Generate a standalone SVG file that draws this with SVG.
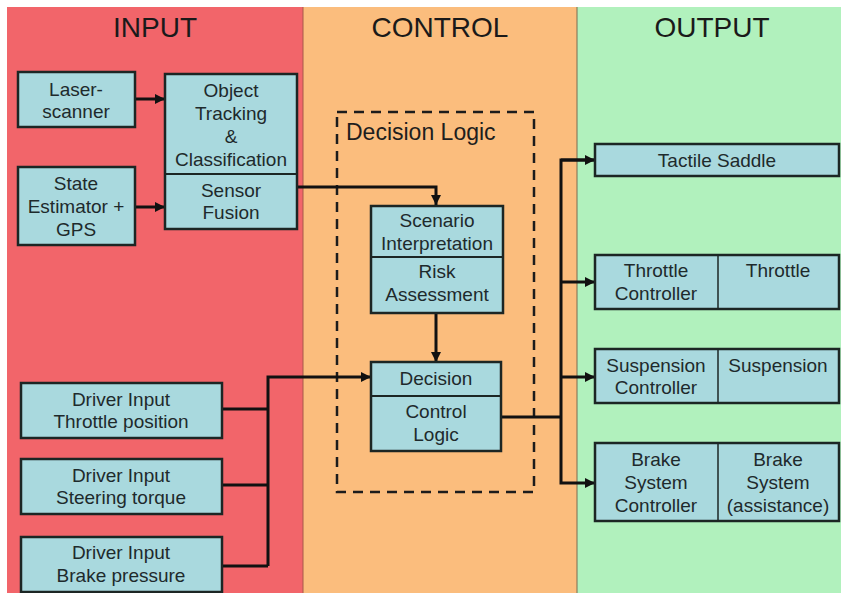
<svg xmlns="http://www.w3.org/2000/svg" width="841" height="593" viewBox="0 0 841 593">
<defs>
<style>
.box{fill:#a9d9de;stroke:#1c2624;stroke-width:2.5}
.div{stroke:#1c2624;stroke-width:2}
.div2{stroke:#1c2624;stroke-width:1.5}
.t{font-family:"Liberation Sans",Arial,sans-serif;font-size:19px;fill:#1e2a2c;text-anchor:middle}
.h{font-family:"Liberation Sans",Arial,sans-serif;font-size:28px;fill:#1a1a1a;text-anchor:middle}
.c{fill:none;stroke:#111;stroke-width:3}
</style>
<marker id="ah" viewBox="0 0 10 10" refX="10" refY="5" markerWidth="3.4" markerHeight="3.4" markerUnits="strokeWidth" orient="auto">
<path d="M0,0 L10,5 L0,10 z" fill="#111"/>
</marker>
</defs>
<rect x="0" y="0" width="841" height="593" fill="#ffffff"/>
<g id="panels">
<rect x="7" y="7" width="296" height="586" fill="#f2656a"/>
<rect x="303" y="7" width="274" height="586" fill="#fbbd7d"/>
<rect x="577" y="7" width="264" height="586" fill="#b1f1bd"/>
<line x1="303" y1="7" x2="303" y2="593" stroke="#a85a4a" stroke-width="1"/>
<line x1="577" y1="7" x2="577" y2="593" stroke="#7a6a50" stroke-width="1"/>
<text class="h" x="155" y="37">INPUT</text>
<text class="h" x="440" y="37">CONTROL</text>
<text class="h" x="712" y="37">OUTPUT</text>
</g>
<g id="decision-logic">
<rect x="337" y="112" width="197" height="380" fill="none" stroke="#1c1c1c" stroke-width="2.5" stroke-dasharray="10,7"/>
<text x="346" y="140" style="font-family:'Liberation Sans',Arial,sans-serif;font-size:23px;fill:#1e1e1e">Decision Logic</text>
</g>
<g id="connectors">
<line class="c" x1="135" y1="99" x2="165" y2="99" marker-end="url(#ah)"/>
<line class="c" x1="135" y1="207" x2="165" y2="207" marker-end="url(#ah)"/>
<polyline class="c" points="297,187 436,187 436,205" marker-end="url(#ah)"/>
<line class="c" x1="436" y1="313" x2="436" y2="362" marker-end="url(#ah)"/>
<line class="c" x1="222" y1="409" x2="268" y2="409"/>
<line class="c" x1="222" y1="485" x2="268" y2="485"/>
<line class="c" x1="222" y1="566" x2="268" y2="566"/>
<polyline class="c" points="268,566 268,377 371,377" marker-end="url(#ah)"/>
<line class="c" x1="501" y1="417" x2="561" y2="417"/>
<polyline class="c" points="595,160 561,160 561,483 595,483" marker-end="url(#ah)"/>
<line class="c" x1="561" y1="160" x2="595" y2="160" marker-end="url(#ah)"/>
<line class="c" x1="561" y1="282" x2="595" y2="282" marker-end="url(#ah)"/>
<line class="c" x1="561" y1="377" x2="595" y2="377" marker-end="url(#ah)"/>
</g>
<g id="laser-scanner">
<rect class="box" x="18" y="72" width="117" height="55"/>
<text class="t" x="76" y="96">Laser-</text>
<text class="t" x="76" y="118">scanner</text>
</g>
<g id="state-estimator">
<rect class="box" x="18" y="167" width="117" height="78"/>
<text class="t" x="76" y="190">State</text>
<text class="t" x="76" y="213">Estimator +</text>
<text class="t" x="76" y="236">GPS</text>
</g>
<g id="object-tracking">
<rect class="box" x="165" y="74" width="132" height="155"/>
<line class="div" x1="165" y1="174" x2="297" y2="174"/>
<text class="t" x="231" y="97">Object</text>
<text class="t" x="231" y="120">Tracking</text>
<text class="t" x="231" y="143">&amp;</text>
<text class="t" x="231" y="166">Classification</text>
<text class="t" x="231" y="197">Sensor</text>
<text class="t" x="231" y="219">Fusion</text>
</g>
<g id="scenario">
<rect class="box" x="371" y="206" width="132" height="107"/>
<line class="div" x1="371" y1="257" x2="503" y2="257"/>
<text class="t" x="437" y="227">Scenario</text>
<text class="t" x="437" y="250">Interpretation</text>
<text class="t" x="437" y="278">Risk</text>
<text class="t" x="437" y="301">Assessment</text>
</g>
<g id="decision">
<rect class="box" x="371" y="362" width="130" height="89"/>
<line class="div" x1="371" y1="396" x2="501" y2="396"/>
<text class="t" x="436" y="385">Decision</text>
<text class="t" x="436" y="418">Control</text>
<text class="t" x="436" y="441">Logic</text>
</g>
<g id="driver-throttle">
<rect class="box" x="21" y="383" width="201" height="55"/>
<text class="t" x="121" y="406">Driver Input</text>
<text class="t" x="121" y="428">Throttle position</text>
</g>
<g id="driver-steering">
<rect class="box" x="21" y="459" width="201" height="55"/>
<text class="t" x="121" y="482">Driver Input</text>
<text class="t" x="121" y="504">Steering torque</text>
</g>
<g id="driver-brake">
<rect class="box" x="21" y="537" width="201" height="55"/>
<text class="t" x="121" y="559">Driver Input</text>
<text class="t" x="121" y="582">Brake pressure</text>
</g>
<g id="tactile-saddle">
<rect class="box" x="595" y="144" width="244" height="32"/>
<text class="t" x="717" y="167">Tactile Saddle</text>
</g>
<g id="throttle">
<rect class="box" x="595" y="255" width="244" height="54"/>
<line class="div2" x1="718" y1="255" x2="718" y2="309"/>
<text class="t" x="656" y="277">Throttle</text>
<text class="t" x="656" y="300">Controller</text>
<text class="t" x="778" y="277">Throttle</text>
</g>
<g id="suspension">
<rect class="box" x="595" y="349" width="244" height="54"/>
<line class="div2" x1="718" y1="349" x2="718" y2="403"/>
<text class="t" x="656" y="372">Suspension</text>
<text class="t" x="656" y="394">Controller</text>
<text class="t" x="778" y="372">Suspension</text>
</g>
<g id="brake">
<rect class="box" x="595" y="443" width="244" height="78"/>
<line class="div2" x1="718" y1="443" x2="718" y2="521"/>
<text class="t" x="656" y="466">Brake</text>
<text class="t" x="656" y="489">System</text>
<text class="t" x="656" y="512">Controller</text>
<text class="t" x="778" y="466">Brake</text>
<text class="t" x="778" y="489">System</text>
<text class="t" x="778" y="512">(assistance)</text>
</g>
</svg>
